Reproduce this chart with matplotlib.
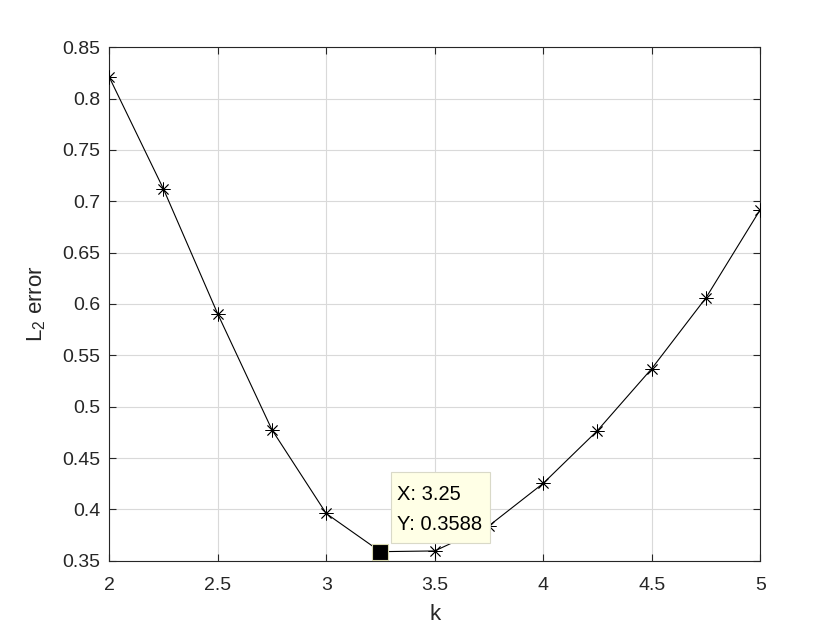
import matplotlib.pyplot as plt
from matplotlib.path import Path

plt.rcParams['font.family'] = ['Liberation Sans', 'DejaVu Sans']
plt.rcParams['mathtext.fontset'] = 'custom'
plt.rcParams['mathtext.rm'] = 'Liberation Sans'
plt.rcParams['mathtext.it'] = 'Liberation Sans'

k = [2.0, 2.25, 2.5, 2.75, 3.0, 3.25, 3.5, 3.75, 4.0, 4.25, 4.5, 4.75, 5.0]
err = [0.821, 0.712, 0.5904, 0.4775, 0.396, 0.3588, 0.3595, 0.384,
       0.4253, 0.4767, 0.537, 0.606, 0.6918]
tip_x = 3.25
tip_y = 0.3588

dark = '#262626'


def tipbox(x0, y0, width, height, mutation_size):
    # datatip box: narrow side padding, taller top/bottom padding
    px = 0.3 * mutation_size
    pb = 0.45 * mutation_size
    pt = 0.65 * mutation_size
    l, r = x0 - px, x0 + width + px + 2
    b, t = y0 - pb, y0 + height + pt
    return Path([(l, b), (r, b), (r, t), (l, t), (l, b)], closed=True)


fig = plt.figure(figsize=(8.4, 6.3), dpi=100)
ax = fig.add_axes([0.13, 0.11, 0.775, 0.815])

ax.plot(k, err, color='black', lw=0.8, marker=(8, 2, 0), ms=10,
        mew=0.6, zorder=3)

# data tip
ax.plot([tip_x], [tip_y], marker='s', ms=11, color='black',
        mec='#d8d8b0', mew=0.8, zorder=5, clip_on=False)
ax.annotate('X: %g\nY: %.4f' % (tip_x, tip_y), xy=(tip_x, tip_y),
            xytext=(12, 13), textcoords='offset points',
            fontsize=14.5, color='black', ha='left', va='bottom',
            linespacing=1.7, zorder=6,
            bbox=dict(boxstyle=tipbox, fc='#ffffe6', ec='#d9d9c8', lw=0.8))

ax.set_xlim(2, 5)
ax.set_ylim(0.35, 0.85)
ax.set_xticks([2, 2.5, 3, 3.5, 4, 4.5, 5])
ax.set_xticklabels(['2', '2.5', '3', '3.5', '4', '4.5', '5'])
yt = [0.35, 0.4, 0.45, 0.5, 0.55, 0.6, 0.65, 0.7, 0.75, 0.8, 0.85]
ax.set_yticks(yt)
ax.set_yticklabels(['%g' % v for v in yt])

ax.grid(True, color='#d9d9d9', lw=0.8)
ax.set_axisbelow(True)
ax.tick_params(direction='in', length=5, width=0.8, colors=dark,
               labelsize=14, top=True, right=True)
ax.tick_params(axis='x', pad=12)
ax.tick_params(axis='y', pad=6.5)
for s in ax.spines.values():
    s.set_color(dark)
    s.set_linewidth(0.8)

ax.set_xlabel('k', fontsize=16, color=dark, labelpad=7)
ax.set_ylabel(r'L$_\mathrm{2}$ error', fontsize=16, color=dark, labelpad=10)

fig.savefig('out.png', dpi=100)
